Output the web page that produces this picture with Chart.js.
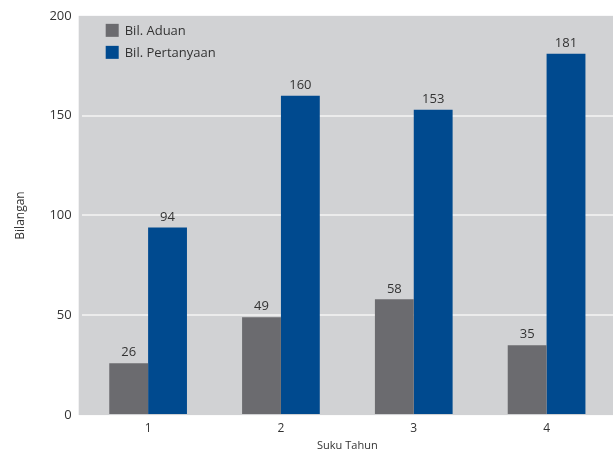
<!DOCTYPE html>
<html>
<head>
<meta charset="utf-8">
<script src="https://cdn.jsdelivr.net/npm/chart.js@4"></script>
<style>
  html, body { margin: 0; padding: 0; background: #ffffff; }
  #wrap { width: 613px; height: 452px; position: relative; }
</style>
</head>
<body>
<div id="wrap"><canvas id="chart"></canvas></div>
<script>
const categories = ['1', '2', '3', '4'];
const aduan = [26, 49, 58, 35];
const pertanyaan = [94, 160, 153, 181];
const yTicks = [0, 50, 100, 150, 200];

const FONT = '"Open Sans", "Noto Sans", sans-serif';
const TEXT = '#333333';

// gray plot background (a little wider on the left, like the original)
const plotBg = {
  id: 'plotBg',
  beforeDraw(chart) {
    const { ctx, chartArea: a } = chart;
    ctx.save();
    ctx.fillStyle = '#d1d2d4';
    ctx.fillRect(a.left - 3, a.top, a.right - a.left + 3, a.bottom - a.top);
    ctx.restore();
  }
};

// value labels above bars
const valueLabels = {
  id: 'valueLabels',
  afterDatasetsDraw(chart) {
    const ctx = chart.ctx;
    ctx.save();
    ctx.font = '13px ' + FONT;
    ctx.fillStyle = TEXT;
    ctx.textAlign = 'center';
    ctx.textBaseline = 'bottom';
    chart.data.datasets.forEach((ds, i) => {
      chart.getDatasetMeta(i).data.forEach((bar, j) => {
        ctx.fillText(ds.data[j], bar.x, bar.y - 4);
      });
    });
    ctx.restore();
  }
};

// legend inside the plot area, top left
const innerLegend = {
  id: 'innerLegend',
  afterDraw(chart) {
    const { ctx, chartArea: a } = chart;
    ctx.save();
    ctx.font = '13px ' + FONT;
    ctx.textBaseline = 'middle';
    chart.data.datasets.forEach((ds, i) => {
      const x = a.left + 24;
      const y = a.top + 8 + i * 22;
      ctx.fillStyle = ds.backgroundColor;
      ctx.fillRect(x, y, 13, 13);
      ctx.fillStyle = TEXT;
      ctx.fillText(ds.label, x + 19, y + 7);
    });
    ctx.restore();
  }
};

new Chart(document.getElementById('chart'), {
  type: 'bar',
  data: {
    labels: categories,
    datasets: [
      { label: 'Bil. Aduan', data: aduan, backgroundColor: '#6b6b6f' },
      { label: 'Bil. Pertanyaan', data: pertanyaan, backgroundColor: '#004a8f' }
    ]
  },
  options: {
    responsive: true,
    maintainAspectRatio: false,
    animation: false,
    layout: { padding: { top: 8, right: 0, bottom: 0, left: 13 } },
    datasets: { bar: { barPercentage: 1, categoryPercentage: 0.585 } },
    plugins: { legend: { display: false }, tooltip: { enabled: false } },
    scales: {
      x: {
        grid: { display: false, drawTicks: false },
        border: { display: false },
        ticks: { color: TEXT, font: { family: FONT, size: 12, lineHeight: 1 }, padding: 7 },
        title: { display: true, text: 'Suku Tahun', color: TEXT, font: { family: FONT, size: 11, lineHeight: 0.9 }, padding: { top: 0, bottom: 1 } }
      },
      y: {
        min: 0,
        max: 200,
        afterBuildTicks(axis) { axis.ticks = yTicks.map(v => ({ value: v })); },
        grid: {
          drawTicks: false,
          lineWidth: 2,
          color: ctx => (ctx.tick && (ctx.tick.value === 0 || ctx.tick.value === 200)) ? 'rgba(0,0,0,0)' : '#ececec'
        },
        border: { display: false },
        ticks: { color: TEXT, font: { family: FONT, size: 13, lineHeight: 0.9 }, padding: 10 },
        title: { display: true, text: 'Bilangan', color: TEXT, font: { family: FONT, size: 12 }, padding: { top: 0, bottom: 12 } }
      }
    }
  },
  plugins: [plotBg, valueLabels, innerLegend]
});
</script>
</body>
</html>
